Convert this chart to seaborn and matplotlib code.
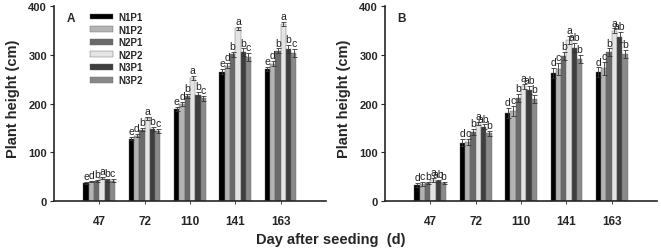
import numpy as np
import pandas as pd
import matplotlib.pyplot as plt
import seaborn as sns

days = ['47', '72', '110', '141', '163']
treatments = ['N1P1', 'N1P2', 'N2P1', 'N2P2', 'N3P1', 'N3P2']
colors = ['#000000', '#b4b4b4', '#6a6a6a', '#e4e4e4', '#3e3e3e', '#8a8a8a']

# panel A, rows = treatments, cols = days
height_a = [
    [37, 128, 189, 265, 271],
    [40, 134, 199, 278, 282],
    [42, 146, 216, 301, 308],
    [48, 170, 252, 354, 363],
    [43, 148, 218, 305, 312],
    [42, 143, 211, 296, 304],
]
err_a = [
    [2, 3, 4, 5, 5],
    [2, 3, 4, 5, 5],
    [2, 3, 4, 5, 5],
    [2, 3, 4, 4, 4],
    [3, 4, 5, 8, 8],
    [4, 4, 5, 8, 8],
]
letters_a = [
    ['e', 'e', 'e', 'e', 'e'],
    ['d', 'd', 'd', 'd', 'd'],
    ['b', 'b', 'b', 'b', 'b'],
    ['a', 'a', 'a', 'a', 'a'],
    ['b', 'b', 'b', 'b', 'b'],
    ['c', 'c', 'c', 'c', 'c'],
]

# panel B
height_b = [
    [33, 120, 180, 262, 264],
    [35, 121, 184, 271, 272],
    [37, 141, 211, 297, 305],
    [43, 159, 235, 330, 349],
    [41, 152, 228, 315, 336],
    [37, 139, 209, 291, 301],
]
err_b = [
    [4, 8, 10, 10, 10],
    [4, 6, 10, 12, 14],
    [3, 6, 8, 8, 8],
    [4, 4, 6, 8, 5],
    [3, 5, 8, 10, 10],
    [3, 5, 8, 8, 8],
]
letters_b = [
    ['d', 'd', 'd', 'd', 'd'],
    ['c', 'c', 'c', 'c', 'c'],
    ['b', 'b', 'b', 'b', 'b'],
    ['a', 'a', 'a', 'a', 'a'],
    ['ab', 'ab', 'ab', 'ab', 'ab'],
    ['b', 'b', 'b', 'b', 'b'],
]

sns.set_style('ticks')
plt.rcParams['font.family'] = ['Liberation Sans', 'DejaVu Sans']
narrow = ['Liberation Sans Narrow', 'Liberation Sans', 'DejaVu Sans']


def to_long(heights):
    rows = []
    for t, vals in zip(treatments, heights):
        for d, v in zip(days, vals):
            rows.append({'day': d, 'treatment': t, 'height': v})
    return pd.DataFrame(rows)


def draw_panel(ax, heights, errs, letters, tag, legend):
    df = to_long(heights)
    sns.barplot(data=df, x='day', y='height', hue='treatment', order=days,
                hue_order=treatments, palette=colors, width=0.7, gap=0,
                errorbar=None, edgecolor='#666666', linewidth=0.3,
                legend=legend, ax=ax)
    bar_groups = list(ax.containers)
    for i, cont in enumerate(bar_groups):
        for j, bar in enumerate(cont):
            xc = bar.get_x() + bar.get_width() / 2
            top = bar.get_height()
            ax.errorbar(xc, top, yerr=errs[i][j], color='#333333',
                        elinewidth=0.6, capsize=1.8, capthick=0.6)
            ax.text(xc, top + errs[i][j] + 2, letters[i][j], ha='center',
                    va='bottom', fontsize=7.5, color='#222222')
    ax.set_xlim(-1, 5)
    ax.set_ylim(0, 400)
    ax.set_yticks([0, 100, 200, 300, 400])
    ax.set_xlabel('')
    ax.set_ylabel('Plant height (cm)', fontsize=10.5, fontweight='bold')
    ax.yaxis.set_label_coords(-0.125, 0.53)
    ax.tick_params(axis='y', labelsize=8, length=3, width=0.8, pad=2)
    ax.tick_params(axis='x', labelsize=8.5, length=2, width=0.6, pad=8)
    for lab in ax.get_yticklabels():
        lab.set_fontweight('bold')
    for lab in ax.get_xticklabels():
        lab.set_fontweight('bold')
        lab.set_family(narrow)
    for sp in ['left', 'bottom']:
        ax.spines[sp].set_linewidth(1.2)
    sns.despine(ax=ax)
    ax.text(0.045, 0.97, tag, transform=ax.transAxes, fontsize=8.5,
            fontweight='bold', va='top')
    if legend:
        leg = ax.legend(loc='upper left', bbox_to_anchor=(0.11, 1.0), frameon=False,
                        prop={'size': 7, 'weight': 'bold'}, handlelength=2.4,
                        handleheight=0.55, labelspacing=0.27, handletextpad=0.5,
                        borderaxespad=0.2)


fig = plt.figure(figsize=(6.61, 2.53), dpi=100)
ax_a = fig.add_axes([0.0817, 0.2016, 0.4113, 0.7704])
ax_b = fig.add_axes([0.5825, 0.2016, 0.4115, 0.7704])

draw_panel(ax_a, height_a, err_a, letters_a, 'A', True)
draw_panel(ax_b, height_b, err_b, letters_b, 'B', False)

fig.text(0.5, 0.051, 'Day after seeding  (d)', ha='center', va='center',
         fontsize=10.5, fontweight='bold')

fig.savefig('out.png', dpi=100)
